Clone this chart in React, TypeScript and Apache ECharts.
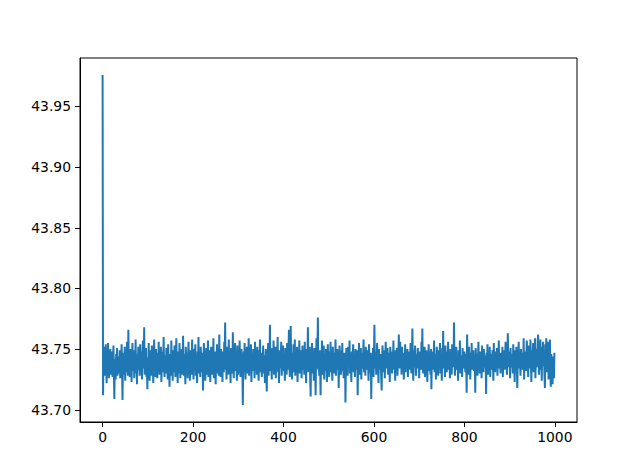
import React, { useEffect, useRef } from "react";
import * as echarts from "echarts";

const values: number[] = [
  43.976, 43.712, 43.745, 43.752, 43.733, 43.740, 43.728, 43.754, 43.736, 43.722, 43.747, 43.731, 43.755, 43.738, 43.726, 43.744, 43.733, 43.750, 43.729, 43.741,
  43.735, 43.748, 43.727, 43.739, 43.753, 43.731, 43.709, 43.742, 43.737, 43.725, 43.746, 43.733, 43.751, 43.728, 43.740, 43.744, 43.730, 43.736, 43.749, 43.726,
  43.743, 43.732, 43.754, 43.738, 43.708, 43.741, 43.729, 43.747, 43.735, 43.752, 43.724, 43.739, 43.745, 43.731, 43.756, 43.737, 43.728, 43.766, 43.734, 43.742,
  43.727, 43.750, 43.736, 43.744, 43.723, 43.741, 43.755, 43.732, 43.738, 43.749, 43.726, 43.743, 43.735, 43.758, 43.730, 43.740, 43.721, 43.746, 43.737, 43.752,
  43.733, 43.744, 43.728, 43.754, 43.739, 43.731, 43.748, 43.725, 43.742, 43.757, 43.734, 43.740, 43.768, 43.729, 43.745, 43.736, 43.751, 43.727, 43.738, 43.717,
  43.743, 43.732, 43.755, 43.737, 43.724, 43.749, 43.734, 43.741, 43.728, 43.753, 43.736, 43.745, 43.722, 43.739, 43.758, 43.731, 43.744, 43.727, 43.750, 43.735,
  43.741, 43.726, 43.747, 43.733, 43.756, 43.738, 43.729, 43.744, 43.736, 43.752, 43.723, 43.740, 43.748, 43.731, 43.737, 43.760, 43.734, 43.727, 43.745, 43.739,
  43.730, 43.751, 43.736, 43.743, 43.725, 43.754, 43.738, 43.733, 43.719, 43.746, 43.740, 43.728, 43.757, 43.735, 43.742, 43.724, 43.749, 43.737, 43.731, 43.753,
  43.738, 43.727, 43.744, 43.759, 43.733, 43.741, 43.722, 43.748, 43.736, 43.730, 43.755, 43.739, 43.726, 43.745, 43.734, 43.750, 43.729, 43.742, 43.761, 43.735,
  43.728, 43.746, 43.737, 43.721, 43.752, 43.740, 43.733, 43.747, 43.726, 43.743, 43.756, 43.731, 43.739, 43.724, 43.749, 43.736, 43.744, 43.729, 43.758, 43.734,
  43.741, 43.725, 43.750, 43.737, 43.732, 43.754, 43.728, 43.745, 43.739, 43.722, 43.748, 43.735, 43.760, 43.730, 43.743, 43.736, 43.727, 43.752, 43.738, 43.744,
  43.731, 43.747, 43.716, 43.740, 43.755, 43.733, 43.746, 43.724, 43.738, 43.751, 43.729, 43.742, 43.736, 43.757, 43.727, 43.745, 43.734, 43.749, 43.723, 43.740,
  43.752, 43.735, 43.729, 43.744, 43.738, 43.759, 43.726, 43.741, 43.733, 43.748, 43.721, 43.743, 43.737, 43.754, 43.730, 43.746, 43.739, 43.728, 43.762, 43.735,
  43.742, 43.727, 43.750, 43.736, 43.744, 43.723, 43.748, 43.738, 43.731, 43.756, 43.740, 43.772, 43.733, 43.745, 43.725, 43.752, 43.737, 43.743, 43.729, 43.758,
  43.734, 43.747, 43.739, 43.722, 43.751, 43.736, 43.744, 43.730, 43.764, 43.738, 43.726, 43.749, 43.741, 43.755, 43.732, 43.743, 43.737, 43.724, 43.753, 43.740,
  43.729, 43.746, 43.735, 43.757, 43.738, 43.727, 43.744, 43.750, 43.733, 43.741, 43.704, 43.739, 43.748, 43.731, 43.755, 43.736, 43.725, 43.745, 43.740, 43.752,
  43.730, 43.743, 43.737, 43.759, 43.728, 43.747, 43.734, 43.741, 43.754, 43.723, 43.739, 43.746, 43.732, 43.750, 43.736, 43.744, 43.726, 43.756, 43.738, 43.733,
  43.745, 43.729, 43.752, 43.737, 43.742, 43.724, 43.749, 43.735, 43.758, 43.731, 43.740, 43.747, 43.727, 43.743, 43.736, 43.753, 43.730, 43.745, 43.738, 43.722,
  43.741, 43.750, 43.734, 43.715, 43.746, 43.737, 43.755, 43.728, 43.743, 43.739, 43.770, 43.732, 43.748, 43.736, 43.725, 43.751, 43.740, 43.733, 43.757, 43.729,
  43.744, 43.738, 43.752, 43.726, 43.747, 43.735, 43.741, 43.760, 43.731, 43.745, 43.722, 43.739, 43.749, 43.734, 43.743, 43.756, 43.728, 43.740, 43.737, 43.753,
  43.732, 43.746, 43.739, 43.724, 43.751, 43.736, 43.744, 43.729, 43.755, 43.741, 43.733, 43.748, 43.766, 43.738, 43.727, 43.750, 43.769, 43.735, 43.742, 43.725,
  43.747, 43.737, 43.754, 43.731, 43.743, 43.758, 43.728, 43.740, 43.746, 43.734, 43.752, 43.723, 43.739, 43.745, 43.736, 43.757, 43.730, 43.744, 43.738, 43.749,
  43.726, 43.741, 43.753, 43.733, 43.747, 43.739, 43.729, 43.756, 43.735, 43.742, 43.722, 43.750, 43.737, 43.744, 43.768, 43.731, 43.746, 43.738, 43.752, 43.727,
  43.711, 43.743, 43.736, 43.755, 43.730, 43.748, 43.739, 43.724, 43.751, 43.737, 43.745, 43.712, 43.742, 43.759, 43.734, 43.747, 43.776, 43.733, 43.740, 43.728,
  43.749, 43.736, 43.712, 43.744, 43.738, 43.757, 43.729, 43.742, 43.735, 43.753, 43.725, 43.746, 43.740, 43.732, 43.750, 43.737, 43.723, 43.745, 43.754, 43.734,
  43.741, 43.727, 43.748, 43.738, 43.756, 43.731, 43.743, 43.736, 43.724, 43.752, 43.739, 43.745, 43.730, 43.747, 43.735, 43.758, 43.728, 43.742, 43.737, 43.750,
  43.733, 43.746, 43.718, 43.740, 43.753, 43.736, 43.744, 43.729, 43.749, 43.738, 43.755, 43.732, 43.741, 43.726, 43.747, 43.737, 43.743, 43.706, 43.739, 43.751,
  43.734, 43.745, 43.728, 43.752, 43.740, 43.736, 43.757, 43.730, 43.744, 43.738, 43.723, 43.748, 43.735, 43.742, 43.754, 43.731, 43.746, 43.739, 43.727, 43.750,
  43.737, 43.743, 43.733, 43.749, 43.712, 43.741, 43.736, 43.755, 43.729, 43.745, 43.738, 43.751, 43.725, 43.740, 43.747, 43.734, 43.743, 43.758, 43.731, 43.739,
  43.746, 43.728, 43.752, 43.737, 43.744, 43.733, 43.749, 43.740, 43.724, 43.754, 43.736, 43.742, 43.730, 43.747, 43.709, 43.738, 43.745, 43.735, 43.751, 43.727,
  43.743, 43.770, 43.739, 43.734, 43.748, 43.729, 43.741, 43.755, 43.736, 43.744, 43.722, 43.750, 43.738, 43.733, 43.746, 43.740, 43.727, 43.716, 43.742, 43.753,
  43.731, 43.745, 43.737, 43.749, 43.726, 43.741, 43.756, 43.734, 43.743, 43.738, 43.751, 43.729, 43.747, 43.735, 43.740, 43.723, 43.752, 43.744, 43.736, 43.748,
  43.730, 43.742, 43.738, 43.757, 43.733, 43.746, 43.740, 43.724, 43.749, 43.735, 43.743, 43.751, 43.728, 43.739, 43.745, 43.762, 43.734, 43.741, 43.756, 43.737,
  43.744, 43.729, 43.752, 43.738, 43.735, 43.747, 43.725, 43.742, 43.739, 43.754, 43.731, 43.746, 43.740, 43.736, 43.750, 43.727, 43.743, 43.737, 43.748, 43.733,
  43.741, 43.755, 43.736, 43.730, 43.745, 43.767, 43.738, 43.724, 43.749, 43.742, 43.735, 43.753, 43.739, 43.728, 43.746, 43.740, 43.734, 43.751, 43.737, 43.743,
  43.726, 43.748, 43.739, 43.744, 43.733, 43.756, 43.740, 43.767, 43.735, 43.730, 43.747, 43.738, 43.752, 43.727, 43.743, 43.736, 43.749, 43.741, 43.723, 43.746,
  43.738, 43.754, 43.732, 43.745, 43.740, 43.729, 43.750, 43.717, 43.742, 43.736, 43.748, 43.733, 43.744, 43.757, 43.731, 43.739, 43.746, 43.725, 43.741, 43.752,
  43.735, 43.743, 43.728, 43.749, 43.737, 43.741, 43.755, 43.730, 43.746, 43.739, 43.724, 43.751, 43.738, 43.765, 43.734, 43.744, 43.740, 43.727, 43.753, 43.736,
  43.742, 43.731, 43.748, 43.738, 43.756, 43.733, 43.745, 43.740, 43.726, 43.750, 43.737, 43.743, 43.729, 43.754, 43.739, 43.746, 43.735, 43.772, 43.741, 43.728,
  43.747, 43.736, 43.752, 43.733, 43.743, 43.739, 43.724, 43.749, 43.741, 43.735, 43.757, 43.730, 43.745, 43.738, 43.744, 43.727, 43.751, 43.737, 43.742, 43.734,
  43.748, 43.740, 43.731, 43.746, 43.737, 43.714, 43.762, 43.739, 43.744, 43.729, 43.752, 43.736, 43.741, 43.725, 43.747, 43.738, 43.755, 43.733, 43.743, 43.737,
  43.749, 43.732, 43.745, 43.740, 43.714, 43.751, 43.738, 43.734, 43.746, 43.728, 43.742, 43.756, 43.736, 43.741, 43.730, 43.748, 43.739, 43.744, 43.726, 43.753,
  43.737, 43.743, 43.731, 43.750, 43.739, 43.745, 43.735, 43.741, 43.713, 43.747, 43.738, 43.754, 43.729, 43.744, 43.740, 43.736, 43.752, 43.727, 43.742, 43.738,
  43.746, 43.733, 43.749, 43.741, 43.724, 43.755, 43.737, 43.744, 43.731, 43.748, 43.739, 43.735, 43.751, 43.728, 43.743, 43.740, 43.757, 43.734, 43.745, 43.738,
  43.730, 43.747, 43.741, 43.736, 43.752, 43.727, 43.744, 43.739, 43.749, 43.733, 43.742, 43.756, 43.737, 43.745, 43.729, 43.740, 43.763, 43.735, 43.748, 43.738,
  43.743, 43.726, 43.751, 43.739, 43.735, 43.746, 43.741, 43.730, 43.754, 43.737, 43.744, 43.723, 43.749, 43.740, 43.736, 43.752, 43.731, 43.718, 43.745, 43.739,
  43.756, 43.734, 43.742, 43.738, 43.728, 43.750, 43.740, 43.745, 43.733, 43.747, 43.737, 43.759, 43.725, 43.743, 43.739, 43.748, 43.732, 43.744, 43.757, 43.736,
  43.741, 43.727, 43.753, 43.738, 43.745, 43.734, 43.758, 43.740, 43.723, 43.749, 43.737, 43.744, 43.755, 43.731, 43.746, 43.739, 43.759, 43.726, 43.742, 43.750,
  43.735, 43.744, 43.757, 43.762, 43.738, 43.729, 43.748, 43.741, 43.758, 43.733, 43.745, 43.724, 43.752, 43.739, 43.756, 43.736, 43.747, 43.728, 43.718, 43.754,
  43.740, 43.759, 43.731, 43.745, 43.737, 43.756, 43.725, 43.749, 43.742, 43.758, 43.733, 43.719, 43.746, 43.739, 43.743, 43.721, 43.744, 43.740, 43.726, 43.747,
];

const xTicks: number[] = [0, 200, 400, 600, 800, 1000];
const yTicks: number[] = [43.7, 43.75, 43.8, 43.85, 43.9, 43.95];

export default function App() {
  const ref = useRef<HTMLDivElement>(null);
  useEffect(() => {
    if (!ref.current) return;
    const chart = echarts.init(ref.current, undefined, { renderer: "svg" });
    const font = { color: "#000", fontSize: 13.9, fontFamily: "DejaVu Sans" };
    chart.setOption({
      animation: false,
      backgroundColor: "#fff",
      grid: {
        left: 80,
        right: 63,
        top: 58,
        bottom: 52,
        show: true,
        borderColor: "#000",
        borderWidth: 1,
        backgroundColor: "transparent",
      },
      xAxis: {
        type: "value",
        min: -49.95,
        max: 1048.95,
        splitLine: { show: false },
        axisLine: { show: true, onZero: false, lineStyle: { color: "#000", width: 1 } },
        axisTick: { show: true, customValues: xTicks, length: 5, lineStyle: { color: "#000", width: 1 } },
        axisLabel: { customValues: xTicks, margin: 8, ...font, formatter: (v: number) => String(v) },
      },
      yAxis: {
        type: "value",
        min: 43.68994,
        max: 43.98994,
        splitLine: { show: false },
        axisLine: { show: true, onZero: false, lineStyle: { color: "#000", width: 1 } },
        axisTick: { show: true, customValues: yTicks, length: 5, lineStyle: { color: "#000", width: 1 } },
        axisLabel: { customValues: yTicks, margin: 9, ...font, formatter: (v: number) => v.toFixed(2) },
      },
      series: [
        {
          type: "line",
          data: values.map((v, i) => [i, v]),
          showSymbol: false,
          symbol: "none",
          lineStyle: { color: "#1f77b4", width: 2 },
        },
      ],
    });
    return () => chart.dispose();
  }, []);
  return (
    <div
      ref={ref}
      style={{ position: "fixed", left: 0, top: 0, width: 640, height: 474, background: "#fff" }}
    />
  );
}
